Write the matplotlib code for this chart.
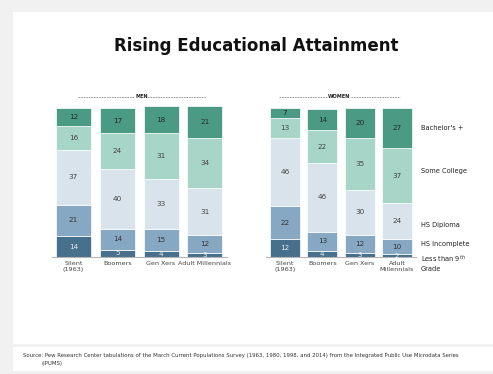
import numpy as np
import matplotlib.pyplot as plt
from matplotlib.patches import Rectangle
from matplotlib.lines import Line2D

# education shares (%) by generation, bottom segment first
levels = ["Less than 9th Grade", "HS Incomplete", "HS Diploma", "Some College", "Bachelor's +"]
colors = ["#46708c", "#87a8c3", "#d8e3eb", "#a7d6c8", "#4a9a84"]
text_colors = ["#e8eef2", "#333333", "#444444", "#444444", "#2a2a2a"]

men_groups = ["Silent\n(1963)", "Boomers", "Gen Xers", "Adult Millennials"]
men_lt9 = [14, 5, 4, 3]
men_hs_inc = [21, 14, 15, 12]
men_hs_dip = [37, 40, 33, 31]
men_some_col = [16, 24, 31, 34]
men_ba = [12, 17, 18, 21]

women_groups = ["Silent\n(1963)", "Boomers", "Gen Xers", "Adult\nMillennials"]
women_lt9 = [12, 4, 3, 2]
women_hs_inc = [22, 13, 12, 10]
women_hs_dip = [46, 46, 30, 24]
women_some_col = [13, 22, 35, 37]
women_ba = [7, 14, 20, 27]

W, H = 493, 374
fig = plt.figure(figsize=(W / 100, H / 100), dpi=100)
fig.patch.set_facecolor("#f1f1f1")

# white cards for chart and source note (behind the axes)
fig.patches.append(Rectangle((13 / W, 1 - 344 / H), 1, (344 - 12) / H,
                             transform=fig.transFigure, facecolor="white", edgecolor="none", zorder=-5))
fig.patches.append(Rectangle((13 / W, 1 - 371 / H), 1, (371 - 347) / H,
                             transform=fig.transFigure, facecolor="white", edgecolor="none", zorder=-5))


def stacked(ax, groups, series):
    x = np.arange(len(groups))
    bottom = np.zeros(len(groups))
    for vals, col, tcol in zip(series, colors, text_colors):
        vals = np.array(vals, dtype=float)
        ax.bar(x, vals, 0.8, bottom=bottom, color=col, edgecolor="white", linewidth=0.5, zorder=2)
        for xi, b, v in zip(x, bottom, vals):
            ax.text(xi, b + v / 2, f"{int(v)}", ha="center", va="center",
                    fontsize=5.2, color=tcol, zorder=3)
        bottom += vals
    ax.set_xlim(-0.5, 3.5)
    ax.set_ylim(0, 105)
    ax.set_xticks(x)
    ax.set_xticklabels(groups, fontsize=4.6, color="#444444", linespacing=1.3)
    ax.tick_params(axis="x", length=0, pad=3)
    ax.set_yticks([])
    for s in ["top", "left", "right"]:
        ax.spines[s].set_visible(False)
    ax.spines["bottom"].set_color("#b5b5b5")
    ax.spines["bottom"].set_linewidth(0.8)
    ax.set_facecolor("none")


ax_men = fig.add_axes([51.6 / W, (H - 257) / H, 175.2 / W, 156.5 / H])
stacked(ax_men, men_groups, [men_lt9, men_hs_inc, men_hs_dip, men_some_col, men_ba])

ax_women = fig.add_axes([266.3 / W, (H - 257) / H, 149.4 / W, 156.5 / H])
stacked(ax_women, women_groups, [women_lt9, women_hs_inc, women_hs_dip, women_some_col, women_ba])

# dashed group headers
for x0, x1, name in [(78, 205, "MEN"), (279, 400, "WOMEN")]:
    y = 1 - 97 / H
    fig.add_artist(Line2D([x0 / W, x1 / W], [y, y], transform=fig.transFigure,
                          color="#777777", linewidth=0.5, linestyle=(0, (2.5, 1.2))))
    fig.text((x0 + x1) / 2 / W, y, name, ha="center", va="center", fontsize=3.6,
             fontweight="bold", color="#222222",
             bbox=dict(facecolor="white", edgecolor="none", pad=0.3))

# legend labels on the right
for label, ypx in [("Bachelor's +", 128), ("Some College", 171), ("HS Diploma", 225),
                   ("HS Incomplete", 244), ("Less than 9$^{th}$\nGrade", 262.5)]:
    fig.text(421 / W, 1 - ypx / H, label, ha="left", va="center", fontsize=4.8,
             color="#222222", linespacing=1.4)

fig.text(256 / W, 1 - 46 / H, "Rising Educational Attainment", ha="center", va="center",
         fontsize=12, fontweight="bold", color="#111111")

fig.text(23 / W, 1 - 356 / H,
         "Source: Pew Research Center tabulations of the March Current Populations Survey "
         "(1963, 1980, 1998, and 2014) from the Integrated Public Use Microdata Series",
         ha="left", va="center", fontsize=3.9, color="#333333")
fig.text(42 / W, 1 - 363.5 / H, "(IPUMS)", ha="left", va="center", fontsize=3.9, color="#333333")

fig.savefig("out.png", dpi=100)
